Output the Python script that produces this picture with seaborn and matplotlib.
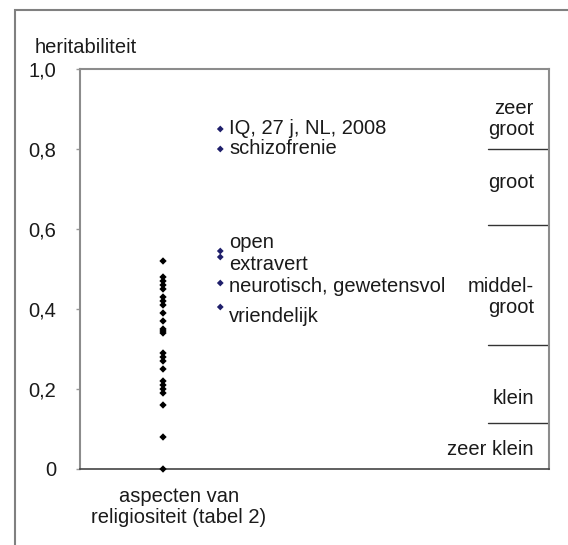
import numpy as np
import pandas as pd
import matplotlib
matplotlib.use("Agg")
import matplotlib.pyplot as plt
import seaborn as sns
from matplotlib.patches import Rectangle

# religiositeit (tabel 2)
relig_values = [0.52, 0.48, 0.47, 0.46, 0.45, 0.43, 0.42, 0.41, 0.39, 0.37,
                0.35, 0.345, 0.34, 0.29, 0.28, 0.27, 0.25, 0.22, 0.21, 0.20,
                0.19, 0.16, 0.08, 0.0]

# vergelijkingskenmerken
ref_labels = ["IQ, 27 j, NL, 2008", "schizofrenie", "open", "extravert",
              "neurotisch, gewetensvol", "vriendelijk"]
ref_values = [0.85, 0.80, 0.545, 0.53, 0.465, 0.405]

# grenzen van de categorieen
cat_bounds = [0.80, 0.61, 0.31, 0.115]
cat_labels = ["zeer\ngroot", "groot", "middel-\ngroot", "klein", "zeer klein"]
cat_label_y = [0.875, 0.715, 0.43, 0.175, 0.048]

yticks = [0, 0.2, 0.4, 0.6, 0.8, 1.0]
ytick_labels = ["0", "0,2", "0,4", "0,6", "0,8", "1,0"]

FS = 14.5

sns.set_style("white")
plt.rcParams["font.family"] = ["Liberation Sans", "DejaVu Sans"]

df_rel = pd.DataFrame({"x": 1.0, "h": relig_values})
df_ref = pd.DataFrame({"x": 1.69, "h": ref_values, "label": ref_labels})

fig = plt.figure(figsize=(5.68, 5.45), dpi=100)
ax = fig.add_axes([80 / 568, 76 / 545, 469 / 568, 400 / 545])

sns.scatterplot(data=df_rel, x="x", y="h", marker="D", s=14, color="black",
                edgecolor="none", ax=ax, zorder=3, clip_on=False)
sns.scatterplot(data=df_ref, x="x", y="h", marker="D", s=12, color="#1f1f6b",
                edgecolor="none", ax=ax, zorder=3)

# labels naast de punten (offset in pixels)
offsets = [0, 0, 9, -7, -3, -10]
for (_, row), dy in zip(df_ref.iterrows(), offsets):
    ax.annotate(row["label"], (row["x"], row["h"]), xytext=(9, dy),
                textcoords="offset pixels", va="center", ha="left",
                fontsize=FS, color="#1a1a1a")

# categorie-indeling rechts
for b in cat_bounds:
    ax.plot([0.87, 1.0], [b, b], transform=ax.get_yaxis_transform(),
            color="#333333", lw=1)
for lab, yy in zip(cat_labels, cat_label_y):
    ax.text(0.968, yy, lab, transform=ax.get_yaxis_transform(), ha="right",
            va="center", fontsize=FS, color="#1a1a1a", linespacing=1.15)

ax.set_xlim(0, 5.65)
ax.set_ylim(0, 1.0)
ax.set_xticks([])
ax.set_yticks(yticks)
ax.set_yticklabels(ytick_labels)
ax.tick_params(axis="y", direction="out", length=3, width=1, color="#999999",
               labelsize=FS, labelcolor="#1a1a1a", pad=14, left=True)
ax.set_ylabel("")
ax.set_xlabel("aspecten van\nreligiositeit (tabel 2)", fontsize=FS,
              color="#1a1a1a", linespacing=1.15)
ax.xaxis.set_label_coords(99 / 469, -0.045, transform=ax.transAxes)
ax.xaxis.label.set_va("top")

for side in ["left", "top", "right"]:
    ax.spines[side].set_color("#8c8c8c")
    ax.spines[side].set_linewidth(1.5)
ax.spines["bottom"].set_color("#444444")
ax.spines["bottom"].set_linewidth(1.2)

fig.text(35 / 568, 1 - 47 / 545, "heritabiliteit", fontsize=FS,
         color="#1a1a1a", ha="left", va="center")

# buitenkader
fig.add_artist(Rectangle((15 / 568, -0.1), 1.2, 1.1 - 10 / 545,
                         transform=fig.transFigure, fill=False,
                         edgecolor="#808080", lw=1.5))

fig.savefig("out.png", dpi=100)
